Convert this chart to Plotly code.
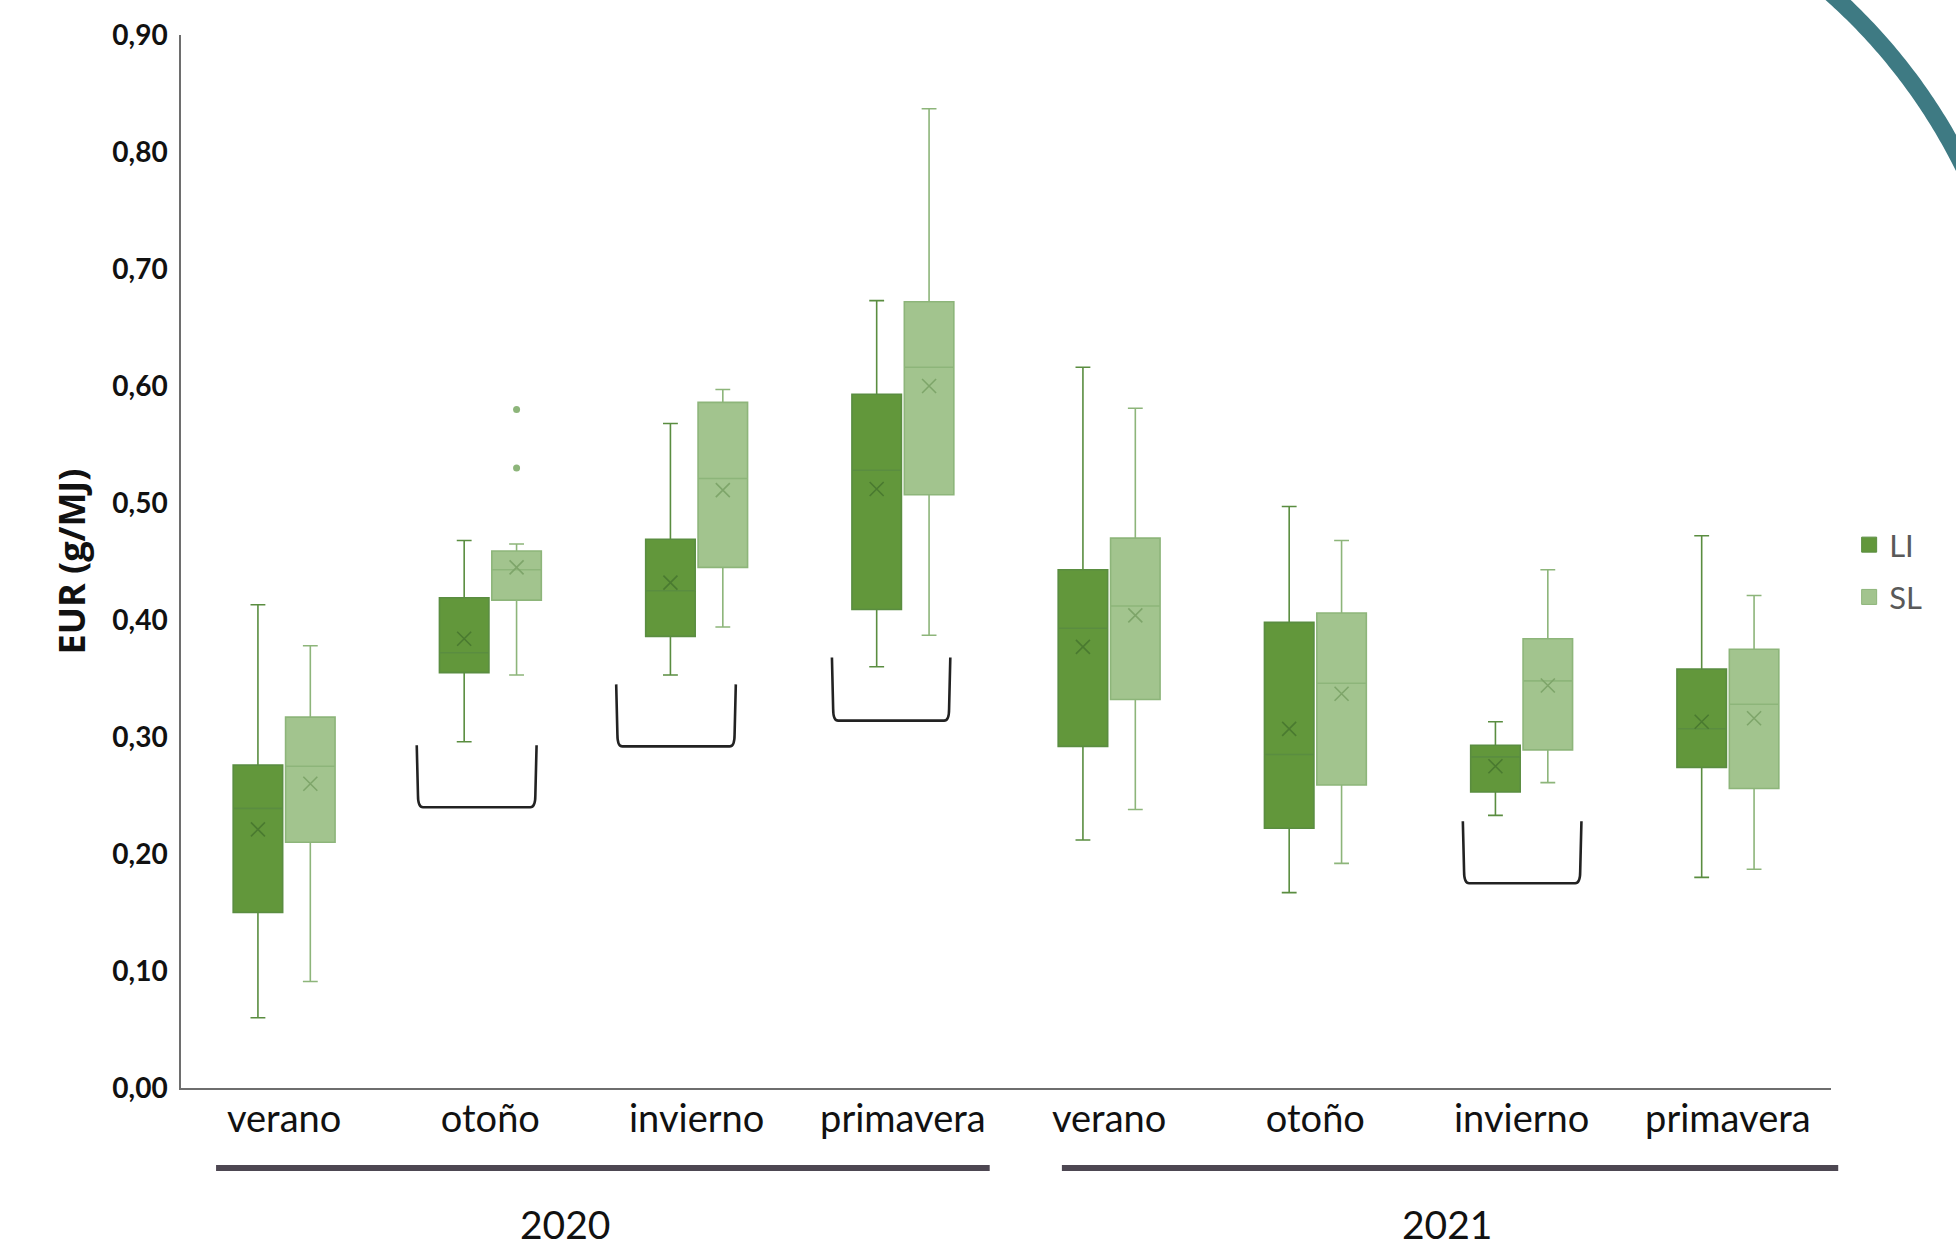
import numpy as np
import plotly.graph_objects as go

# ---------------- data ----------------
seasons = ["verano", "otoño", "invierno", "primavera",
           "verano", "otoño", "invierno", "primavera"]
years = ["2020", "2021"]

li_lower = [0.060, 0.296, 0.353, 0.360, 0.212, 0.167, 0.233, 0.180]
li_q1 = [0.150, 0.355, 0.386, 0.409, 0.292, 0.222, 0.253, 0.274]
li_median = [0.239, 0.372, 0.425, 0.528, 0.393, 0.285, 0.283, 0.307]
li_q3 = [0.276, 0.419, 0.469, 0.593, 0.443, 0.398, 0.293, 0.358]
li_upper = [0.413, 0.468, 0.568, 0.673, 0.616, 0.497, 0.313, 0.472]
li_mean = [0.221, 0.384, 0.432, 0.512, 0.377, 0.307, 0.275, 0.313]

sl_lower = [0.091, 0.353, 0.394, 0.387, 0.238, 0.192, 0.261, 0.187]
sl_q1 = [0.210, 0.417, 0.445, 0.507, 0.332, 0.259, 0.289, 0.256]
sl_median = [0.275, 0.443, 0.521, 0.616, 0.412, 0.346, 0.348, 0.328]
sl_q3 = [0.317, 0.459, 0.586, 0.672, 0.470, 0.406, 0.384, 0.375]
sl_upper = [0.378, 0.465, 0.597, 0.837, 0.581, 0.468, 0.443, 0.421]
sl_mean = [0.260, 0.445, 0.511, 0.600, 0.404, 0.337, 0.344, 0.316]

sl_outlier_cat = [1, 1]
sl_outlier_val = [0.580, 0.530]

# significance brackets: category index, value at arm tops, value at base
bracket_cat = [1, 2, 3, 6]
bracket_top = [0.293, 0.345, 0.368, 0.228]
bracket_bottom = [0.240, 0.292, 0.314, 0.175]

# ---------------- layout geometry ----------------
W, H = 1956, 1240
L, R, T, B = 181, 125, 35, 152
PW, PH = W - L - R, H - T - B
NCAT = len(seasons)

OFF = 0.127        # half distance between LI and SL boxes (category units)
BOXW = 0.24
bracket_left = [-0.357, -0.390, -0.344, -0.285]
bracket_right = [0.224, 0.190, 0.230, 0.290]

LI_FILL, LI_LINE, LI_MEAN = "#62973b", "#5a8d40", "#4a7a30"
SL_FILL, SL_LINE, SL_MEAN = "#a2c48e", "#8db57a", "#7ea56a"

idx = np.arange(NCAT)
fig = go.Figure()

fig.add_trace(go.Box(
    x=idx - OFF, q1=li_q1, median=li_median, q3=li_q3,
    lowerfence=li_lower, upperfence=li_upper,
    fillcolor=LI_FILL, line=dict(color=LI_LINE, width=1.6),
    width=BOXW, whiskerwidth=0.3, boxpoints=False, showlegend=False,
    name="LI", hoverinfo="skip"))
fig.add_trace(go.Box(
    x=idx + OFF, q1=sl_q1, median=sl_median, q3=sl_q3,
    lowerfence=sl_lower, upperfence=sl_upper,
    fillcolor=SL_FILL, line=dict(color=SL_LINE, width=1.6),
    width=BOXW, whiskerwidth=0.3, boxpoints=False, showlegend=False,
    name="SL", hoverinfo="skip"))

fig.add_trace(go.Scatter(
    x=idx - OFF, y=li_mean, mode="markers", showlegend=False,
    marker=dict(symbol="x-thin", size=14, line=dict(color=LI_MEAN, width=1.6))))
fig.add_trace(go.Scatter(
    x=idx + OFF, y=sl_mean, mode="markers", showlegend=False,
    marker=dict(symbol="x-thin", size=14, line=dict(color=SL_MEAN, width=1.6))))
fig.add_trace(go.Scatter(
    x=np.array(sl_outlier_cat) + OFF, y=sl_outlier_val, mode="markers",
    showlegend=False, marker=dict(symbol="circle", size=7, color=SL_LINE)))

# legend entries
fig.add_trace(go.Scatter(x=[None], y=[None], mode="markers", name="LI",
                         legendgroup="a",
                         marker=dict(symbol="square", size=15, color=LI_FILL,
                                     line=dict(color=LI_LINE, width=1))))
fig.add_trace(go.Scatter(x=[None], y=[None], mode="markers", name="SL",
                         legendgroup="b",
                         marker=dict(symbol="square", size=15, color=SL_FILL,
                                     line=dict(color=SL_LINE, width=1))))

shapes = []
# brackets
for c, xl, xr, yt, yb in zip(bracket_cat, bracket_left, bracket_right,
                             bracket_top, bracket_bottom):
    a, b = c + xl, c + xr
    e, rx, ry = 0.006, 0.03, 0.010
    path = (f"M {a},{yt} L {a+e},{yb+ry} Q {a+e},{yb} {a+rx},{yb} "
            f"L {b-rx},{yb} Q {b-e},{yb} {b-e},{yb+ry} L {b},{yt}")
    shapes.append(dict(type="path", path=path, xref="x", yref="y",
                       line=dict(color="#222222", width=2.6)))

# year group lines (positions in category units, converted to paper)
year_line_x = [(-0.330, 3.421), (3.771, 7.535)]
year_label_x = [1.362, 5.638]
for (x0, x1) in year_line_x:
    shapes.append(dict(type="line", xref="paper", yref="paper",
                       x0=(x0 + 0.5) / NCAT, x1=(x1 + 0.5) / NCAT,
                       y0=-0.076, y1=-0.076,
                       line=dict(color="#4d4752", width=6)))

# decorative teal arc at top right (slide decoration)
cx, cy, rr = 1451, 421, 572
th = np.radians(np.linspace(54, 20, 80))
px = cx + rr * np.cos(th)
py = cy - rr * np.sin(th)
qx = (px - L) / PW
qy = (H - B - py) / PH
arc = "M " + " L ".join(f"{u:.5f},{v:.5f}" for u, v in zip(qx, qy))
shapes.append(dict(type="path", path=arc, xref="paper", yref="paper",
                   line=dict(color="#3e7a83", width=17)))

annotations = []
for yl, xv in zip(years, year_label_x):
    annotations.append(dict(text=yl, x=xv, xref="x", y=-0.129, yref="paper",
                            showarrow=False, xanchor="center", yanchor="middle",
                            font=dict(family="Lato", size=39, color="#111111")))

fig.update_layout(
    width=W, height=H,
    margin=dict(l=L, r=R, t=T, b=B, autoexpand=False),
    paper_bgcolor="white", plot_bgcolor="white",
    separators=",.",
    boxmode="overlay",
    shapes=shapes, annotations=annotations,
    legend=dict(x=1.011, xanchor="left", y=0.491, yanchor="middle",
                font=dict(family="Lato", size=31, color="#595959"),
                tracegroupgap=9, itemwidth=30, bgcolor="rgba(0,0,0,0)"),
    xaxis=dict(range=[-0.5, 7.5], tickmode="array", tickvals=list(idx),
               ticktext=seasons, showgrid=False, zeroline=False,
               showline=True, linecolor="#6e6e6e", linewidth=1.5,
               ticks="", ticklabelstandoff=-3,
               tickfont=dict(family="Lato", size=38, color="#111111")),
    yaxis=dict(range=[0, 0.9], dtick=0.1, tick0=0, tickformat=".2f",
               showgrid=False, zeroline=False, showline=True,
               linecolor="#6e6e6e", linewidth=1.5, ticks="",
               ticklabelstandoff=6,
               tickfont=dict(family="Lato", size=28, color="#111111", weight="bold"),
               title=dict(text="<b>EUR (g/MJ)</b>", standoff=16,
                          font=dict(family="Open Sans", size=36, color="#111111"))),
)

fig.write_html("out.html", config={"displayModeBar": False},
               post_script="document.body.style.margin='0';document.body.style.overflow='hidden';")
